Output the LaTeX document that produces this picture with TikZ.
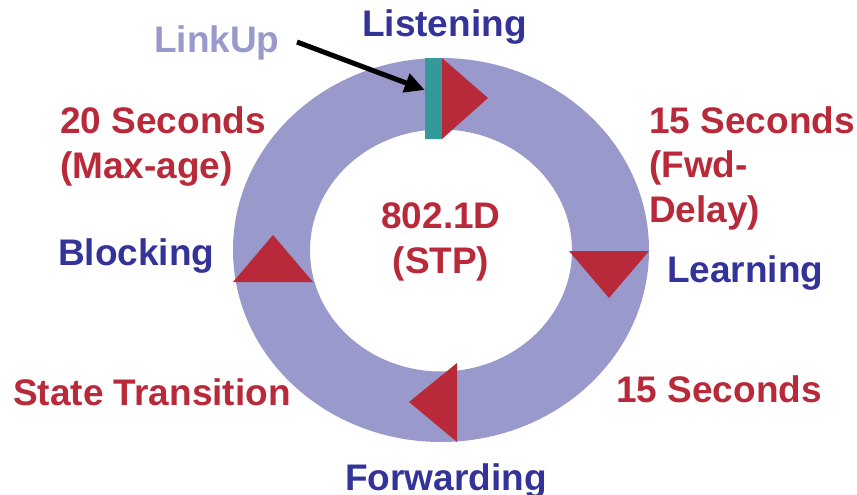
\documentclass[tikz,border=0pt]{standalone}
\usepackage{fontspec}
\setmainfont{Liberation Sans}
\usetikzlibrary{arrows.meta}
\definecolor{ring}{HTML}{9999CC}
\definecolor{port}{HTML}{339999}
\definecolor{timer}{HTML}{B82A3A}
\definecolor{state}{HTML}{333399}

\begin{document}
\begin{tikzpicture}[
  x=1pt,y=-1pt,
  label/.style={inner sep=0pt,anchor=base west,align=left,
                font=\fontsize{37}{44.5}\selectfont\bfseries},
  statelabel/.style={label,text=state},
  timerlabel/.style={label,text=timer},
  marker/.style={fill=timer},
  pointer/.style={-{Triangle[length=20pt,width=19pt]},line width=5pt,draw=black}
]
\useasboundingbox (0,0) rectangle (857,495);

% Ring
\fill[ring,even odd rule] (441,250) ellipse [x radius=208,y radius=192]
  (441,250.5) ellipse [x radius=131,y radius=121];

% Direction markers
\fill[marker] (442,58) -- (442,139) -- (488,98) -- cycle;
\fill[marker] (569,251) -- (649,251) -- (609,298) -- cycle;
\fill[marker] (457,363) -- (457,442) -- (409,402) -- cycle;
\fill[marker] (233,282) -- (313,282) -- (273,235) -- cycle;

% Link-up port
\node[fill=port,minimum width=17pt,minimum height=81pt,inner sep=0pt] (bar) at (433.5,98.5) {};

% Labels
\node[label,text=ring] (linkup) at (154,53) {LinkUp};
\node[statelabel] (listening) at (362,37) {Listening};
\node[statelabel] (learning) at (667,282) {Learning};
\node[statelabel] (blocking) at (58,265) {Blocking};
\node[statelabel] (forwarding) at (345,490) {Forwarding};
\node[timerlabel] (maxage) at (60,178) {20 Seconds\\(Max-age)};
\node[timerlabel] (fwddelay) at (649,222) {15 Seconds\\(Fwd-\\Delay)};
\node[timerlabel] (fwdtime) at (616,402) {15 Seconds};
\node[timerlabel] (transition) at (13,405) {State Transition};
\node[timerlabel,anchor=base,align=center] (stp) at (441,273) {802.1D\\(STP)};

% Pointer
\coordinate (lkstart) at (297,42);
\draw[pointer] (lkstart) -- ([yshift=8.5pt]bar.west);

\end{tikzpicture}
\end{document}
